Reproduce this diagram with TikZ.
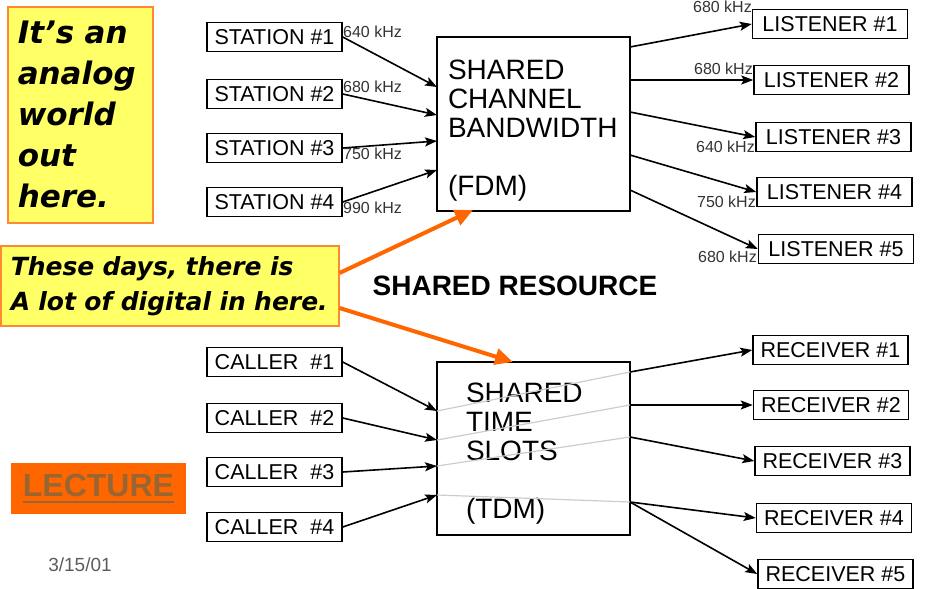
\documentclass[tikz,border=0pt]{standalone}
\usepackage{fontspec}
\setmainfont{Liberation Sans}
\newfontfamily\notefont{DejaVu Sans}
\usetikzlibrary{arrows.meta}
\definecolor{noteyellow}{HTML}{FFFF66}
\definecolor{noteedge}{HTML}{FF8833}
\definecolor{lectorange}{HTML}{FF6600}
\definecolor{lecttext}{HTML}{996633}
\definecolor{slotgray}{HTML}{CCCCCC}
\definecolor{khzgray}{HTML}{333333}
\newcommand{\lectline}[1]{\setbox0\hbox{#1}\rlap{\rule[-7pt]{\wd0}{2.5pt}}\box0}

\begin{document}
\begin{tikzpicture}[x=1pt, y=-1pt,
    box/.style={draw, line width=1.5pt, minimum height=29pt, inner sep=2pt, font=\fontsize{21.5}{25}\selectfont},
    srcbox/.style={box, minimum width=135pt},
    dstbox/.style={box, minimum width=155pt},
    bigbox/.style={draw, line width=1.5pt, align=left, font=\fontsize{28}{29}\selectfont},
    khz/.style={font=\fontsize{16}{18}\selectfont, text=khzgray, inner sep=0pt},
    link/.style={-{Stealth[length=12pt, width=9pt, inset=2.5pt]}, line width=1.6pt},
    slot/.style={slotgray, line width=1.2pt},
    note/.style={draw=noteedge, fill=noteyellow, line width=1.5pt, align=left, font=\notefont\bfseries\itshape},
    hint/.style={-{Triangle[length=18pt, width=16pt]}, lectorange, line width=4pt}
]
    \useasboundingbox (0,0) rectangle (930,589);

    % FDM half
    \node[bigbox, minimum width=193pt, minimum height=174pt, text width=171pt, inner xsep=11pt] (fdm) at (533.5,124)
        {\rule{0pt}{32pt}SHARED\\CHANNEL\\BANDWIDTH\\[29pt](FDM)};

    \node[srcbox] (st1) at (274.5,37) {STATION \#1};
    \node[srcbox] (st2) at (274.5,94) {STATION \#2};
    \node[srcbox] (st3) at (274.5,148) {STATION \#3};
    \node[srcbox] (st4) at (274.5,202) {STATION \#4};

    \node[dstbox] (ls1) at (830,24) {LISTENER \#1};
    \node[dstbox] (ls2) at (831.5,80) {LISTENER \#2};
    \node[dstbox] (ls3) at (833.5,137) {LISTENER \#3};
    \node[dstbox] (ls4) at (834.5,192) {LISTENER \#4};
    \node[dstbox] (ls5) at (836,249) {LISTENER \#5};

    % ports on the FDM box
    \coordinate (fin1) at (437,87);
    \coordinate (fin2) at (437,115);
    \coordinate (fin3) at (437,141);
    \coordinate (fin4) at (437,170);
    \coordinate (fout1) at (630,47);
    \coordinate (fout2) at (630,80);
    \coordinate (fout3) at (630,112);
    \coordinate (fout4) at (630,155);
    \coordinate (fout5) at (630,190);

    \draw[link] (st1.east) -- (fin1);
    \draw[link] (st2.east) -- (fin2);
    \draw[link] (st3.east) -- (fin3);
    \draw[link] (st4.east) -- (fin4);
    \draw[link] (fout1) -- (ls1.west);
    \draw[link] (fout2) -- (ls2.west);
    \draw[link] (fout3) -- (ls3.west);
    \draw[link] (fout4) -- (ls4.west);
    \draw[link] (fout5) -- (ls5.west);

    % frequencies
    \node[khz, anchor=west] (fs1) at (343,32) {640 kHz};
    \node[khz, anchor=west] (fs2) at (343,87) {680 kHz};
    \node[khz, anchor=west] (fs3) at (343,154) {750 kHz};
    \node[khz, anchor=west] (fs4) at (343,208) {990 kHz};
    \node[khz, anchor=east] (fl1) at (752,7) {680 kHz};
    \node[khz, anchor=east] (fl2) at (753,69) {680 kHz};
    \node[khz, anchor=east] (fl3) at (755,147) {640 kHz};
    \node[khz, anchor=east] (fl4) at (756,202) {750 kHz};
    \node[khz, anchor=east] (fl5) at (757,257) {680 kHz};

    % TDM half
    \node[bigbox, minimum width=193pt, minimum height=173pt, text width=135pt, inner xsep=29pt] (tdm) at (533.5,448.5)
        {\rule{0pt}{30pt}SHARED\\TIME\\SLOTS\\[29pt](TDM)};

    \node[srcbox] (cl1) at (274.5,362) {CALLER\ \ \#1};
    \node[srcbox] (cl2) at (274.5,418) {CALLER\ \ \#2};
    \node[srcbox] (cl3) at (274.5,472) {CALLER\ \ \#3};
    \node[srcbox] (cl4) at (274.5,527) {CALLER\ \ \#4};

    \node[dstbox] (rc1) at (830.5,350) {RECEIVER \#1};
    \node[dstbox] (rc2) at (831,405) {RECEIVER \#2};
    \node[dstbox] (rc3) at (832.5,461) {RECEIVER \#3};
    \node[dstbox] (rc4) at (834,518) {RECEIVER \#4};
    \node[dstbox] (rc5) at (835.5,574) {RECEIVER \#5};

    % ports on the TDM box
    \coordinate (tin1) at (437,411);
    \coordinate (tin2) at (437,440);
    \coordinate (tin3) at (437,466);
    \coordinate (tin4) at (437,495);
    \coordinate (tout1) at (630,372);
    \coordinate (tout2) at (630,405);
    \coordinate (tout3) at (630,437);
    \coordinate (tout4) at (630,502);

    \draw[slot] (tin1) -- (tout1);
    \draw[slot] (tin2) -- (tout2);
    \draw[slot] (tin3) -- (tout3);
    \draw[slot] (tin4) -- (tout4);

    \draw[link] (cl1.east) -- (tin1);
    \draw[link] (cl2.east) -- (tin2);
    \draw[link] (cl3.east) -- (tin3);
    \draw[link] (cl4.east) -- (tin4);
    \draw[link] (tout1) -- (rc1.west);
    \draw[link] (tout2) -- (rc2.west);
    \draw[link] (tout3) -- (rc3.west);
    \draw[link] (tout4) -- (rc4.west);
    \draw[link] (tout4) -- (rc5.west);

    \node[font=\fontsize{28}{30}\selectfont\bfseries] (res) at (515,286) {SHARED RESOURCE};

    % notes
    \node[note, anchor=north west, minimum width=145pt, minimum height=216pt, text width=125pt, inner xsep=10pt,
        font=\notefont\bfseries\itshape\fontsize{31}{41}\selectfont] (analog) at (7,6)
        {It’s an\\analog\\world\\out\\here.};
    \node[note, anchor=north west, minimum width=338pt, minimum height=80pt, text width=318pt, inner xsep=10pt,
        font=\notefont\bfseries\itshape\fontsize{25}{35}\selectfont] (digital) at (0,245)
        {These days, there is\\A lot of digital in here.};

    \coordinate (hin1) at (473,210);
    \coordinate (hin2) at (513,362);
    \draw[hint] (digital.east |- 0,273) -- (hin1);
    \draw[hint] (digital.east |- 0,308) -- (hin2);

    \node[fill=lectorange, minimum width=175pt, minimum height=51pt, text=lecttext,
        font=\fontsize{32}{34}\selectfont\bfseries] (lect) at (98.5,488.5) {\lectline{LECTURE}};
    \node[text=khzgray!80, font=\fontsize{19}{21}\selectfont] (date) at (80,565) {3/15/01};
\end{tikzpicture}
\end{document}
